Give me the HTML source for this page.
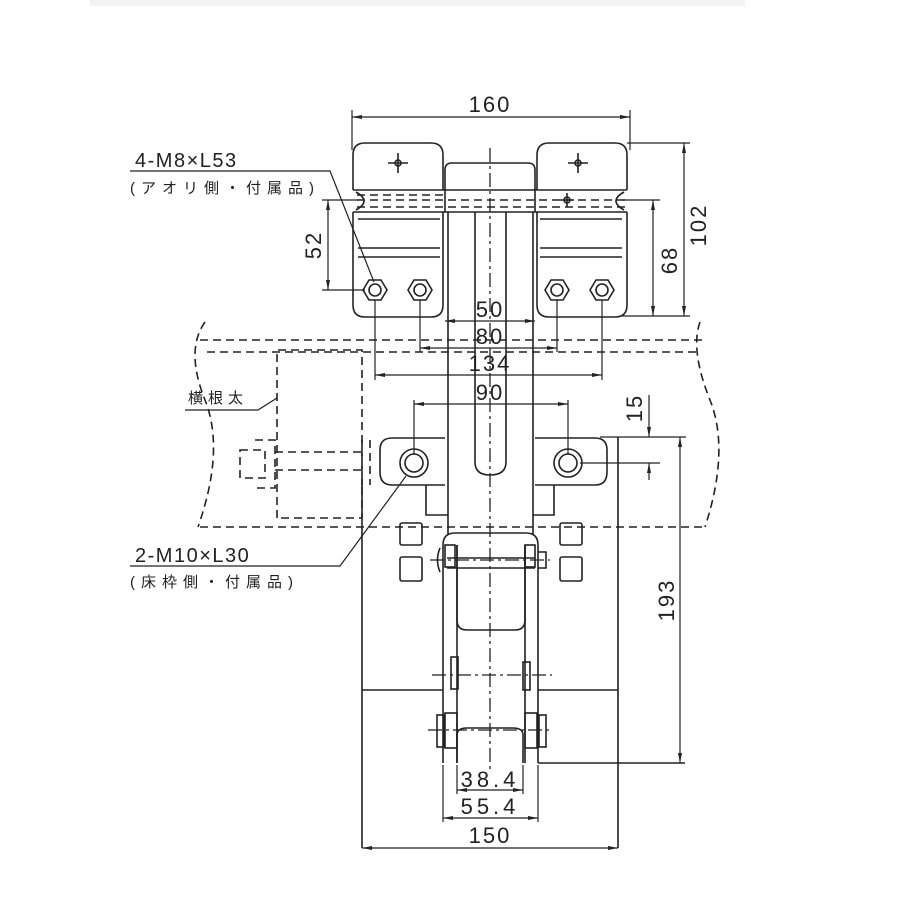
<!DOCTYPE html>
<html><head><meta charset="utf-8"><style>
body{margin:0;background:#fff}
svg{display:block}
text{font-family:"Liberation Sans","Noto Sans CJK JP",sans-serif;fill:#222}
</style></head><body>
<svg width="900" height="900" viewBox="0 0 900 900" xmlns="http://www.w3.org/2000/svg">
<defs>
<marker id="a" markerWidth="10" markerHeight="6" refX="10" refY="3" orient="auto-start-reverse" markerUnits="userSpaceOnUse"><path d="M0,1 L10,3 L0,5z" fill="#222"/></marker>
</defs>
<rect x="90" y="0" width="655" height="6" fill="#f3f3f3"/>
<g stroke="#222" stroke-width="1.6" fill="none">
<path d="M353,190 V155 Q353,143 365,143 H431 Q443,143 443,155 V190"/>
<path d="M353,212 V305 Q353,317 365,317 H431 Q443,317 443,305 V212"/>
<path d="M537,190 V155 Q537,143 549,143 H615 Q627,143 627,155 V190"/>
<path d="M537,212 V305 Q537,317 549,317 H615 Q627,317 627,305 V212"/>
<path d="M353,190 H627 M353,212 H627"/>
<path d="M356,192 Q372,201 356,210 M624,192 Q608,201 624,210"/>
<path d="M358,219 H440 M358,248 H440 M358,257 H440 M540,219 H622 M540,248 H622 M540,257 H622"/>
<path d="M445,212 V170 Q445,163 452,163 H528 Q535,163 535,170 V212"/>
<path d="M475,212 V462 Q475,475 490,475 Q506,475 506,462 V212"/>
<path d="M448,212 V535 M533,212 V535"/>
<g id="nut"><polygon points="363,290 369,280 381,280 387,290 381,300 369,300"/><circle cx="375" cy="290" r="6"/></g>
<use href="#nut" x="45"/><use href="#nut" x="182"/><use href="#nut" x="227"/>
<path d="M388,163 H408 M398,153 V173 M568,163 H588 M578,153 V173 M560,200 H574 M567,193 V207"/>
<circle cx="398" cy="163" r="3"/><circle cx="578" cy="163" r="3"/><circle cx="567" cy="200" r="3"/>
<path d="M445,438 H392 Q380,438 380,450 V472 Q380,485 392,485 H445"/>
<path d="M535,438 H595 Q607,438 607,450 V472 Q607,485 595,485 H535"/>
<circle cx="414" cy="463" r="14"/><circle cx="414" cy="463" r="9"/>
<circle cx="568" cy="463" r="14"/><circle cx="568" cy="463" r="9"/>
<path d="M426,485 V515 H448 M554,485 V515 H533"/>
<path d="M362,482 V848 M618,437 V848 M362,690 H443 M538,690 H618 M538,763 H685"/>
<rect x="400" y="523" width="22" height="22" rx="2"/><rect x="400" y="557" width="22" height="24" rx="2"/>
<rect x="560" y="523" width="22" height="22" rx="2"/><rect x="560" y="557" width="22" height="24" rx="2"/>
<path d="M443,763 V545 Q443,533 455,533 H526 Q538,533 538,545 V763"/>
<path d="M457,545 V620 Q457,630 467,630 H515 Q525,630 525,620 V545"/>
<path d="M447,558 H535 M447,568 H535"/>
<rect x="445" y="545" width="10" height="22"/><rect x="525" y="545" width="10" height="22"/>
<path d="M440,548 Q435,560 440,572 M538,552 H546 V568 H538"/>
<rect x="451" y="657" width="7" height="32"/><rect x="523" y="662" width="7" height="28"/>
<path d="M457,763 V735 Q457,728 467,728 H513 Q523,728 523,735 V763"/>
<rect x="445" y="713" width="12" height="35"/><rect x="525" y="713" width="12" height="35"/>
<rect x="437" y="715" width="7" height="32"/><rect x="539" y="715" width="7" height="32"/>
<path d="M457,545 V763 M525,545 V763"/>
</g>
<g stroke="#222" stroke-width="1.3" fill="none" stroke-dasharray="14,4,3,4">
<path d="M490,148 V770"/>
<path d="M432,675 H552 M428,730 H552 M430,560 H550"/>
</g>
<g stroke="#222" stroke-width="1.6" fill="none" stroke-dasharray="8,5">
<path d="M357,200 H625 M357,207 H625 M357,195 H443"/>
<path d="M200,340 H705 M207,352 H700 M200,527 H705"/>
<path d="M205,322 Q185,350 205,400 Q225,450 198,527"/>
<path d="M700,322 Q690,350 710,400 Q730,450 705,527"/>
<path d="M277,518 V350 H362 V518 H277"/>
<path d="M240,450 H265 V478 H240 Z M255,440 H275 V488 H255 M275,452 H362 M275,470 H362 M362,440 V485 M370,440 V485"/>
</g>
<g stroke="#222" stroke-width="1.2" fill="none">
<path d="M352,150 V110 M630,150 V110"/>
<path d="M352,117 H630" marker-start="url(#a)" marker-end="url(#a)"/>
<path d="M322,200 H358 M322,290 H365"/>
<path d="M328,200 V290" marker-start="url(#a)" marker-end="url(#a)"/>
<path d="M627,143 H690 M622,200 H660 M622,316 H690"/>
<path d="M653,200 V316" marker-start="url(#a)" marker-end="url(#a)"/>
<path d="M684,143 V316" marker-start="url(#a)" marker-end="url(#a)"/>
<path d="M445,321 H535" marker-start="url(#a)" marker-end="url(#a)"/>
<path d="M420,300 V352 M557,300 V352 M375,300 V380 M602,300 V380 M414,400 V455 M568,400 V455"/>
<path d="M420,348 H557" marker-start="url(#a)" marker-end="url(#a)"/>
<path d="M375,375 H602" marker-start="url(#a)" marker-end="url(#a)"/>
<path d="M414,404 H568" marker-start="url(#a)" marker-end="url(#a)"/>
<path d="M600,437 H686 M580,463 H660"/>
<path d="M649,395 V437" marker-end="url(#a)"/><path d="M649,480 V463" marker-end="url(#a)"/>
<path d="M680,437 V763" marker-start="url(#a)" marker-end="url(#a)"/>
<path d="M457,765 V794 M523,765 V794 M443,765 V822 M538,765 V822"/>
<path d="M457,790 H523" marker-start="url(#a)" marker-end="url(#a)"/>
<path d="M443,818 H538" marker-start="url(#a)" marker-end="url(#a)"/>
<path d="M362,848 H618" marker-start="url(#a)" marker-end="url(#a)"/>
<path d="M130,171 H330 L374,282"/>
<path d="M130,566 H340 L406,476"/>
<path d="M185,410 H258 L277,398"/>
</g>
<g font-size="22" text-anchor="middle" letter-spacing="2">
<text x="490" y="112">160</text>
<text x="490" y="317">50</text>
<text x="490" y="344">80</text>
<text x="490" y="371">134</text>
<text x="490" y="400">90</text>
<text x="490" y="787" letter-spacing="4">38.4</text>
<text x="490" y="814" letter-spacing="4">55.4</text>
<text x="490" y="843">150</text>
<text transform="translate(321,245) rotate(-90)">52</text>
<text transform="translate(677,260) rotate(-90)">68</text>
<text transform="translate(706,225) rotate(-90)">102</text>
<text transform="translate(642,408) rotate(-90)">15</text>
<text transform="translate(674,600) rotate(-90)">193</text>
</g>
<g font-size="20" letter-spacing="1.5">
<text x="135" y="167">4-M8×L53</text>
<text x="130" y="193" font-size="15" letter-spacing="6">(アオリ側・付属品)</text>
<text x="135" y="562">2-M10×L30</text>
<text x="130" y="587" font-size="15" letter-spacing="6">(床枠側・付属品)</text>
<text x="188" y="403" font-size="15" letter-spacing="5">横根太</text>
</g>
</svg>
</body></html>
